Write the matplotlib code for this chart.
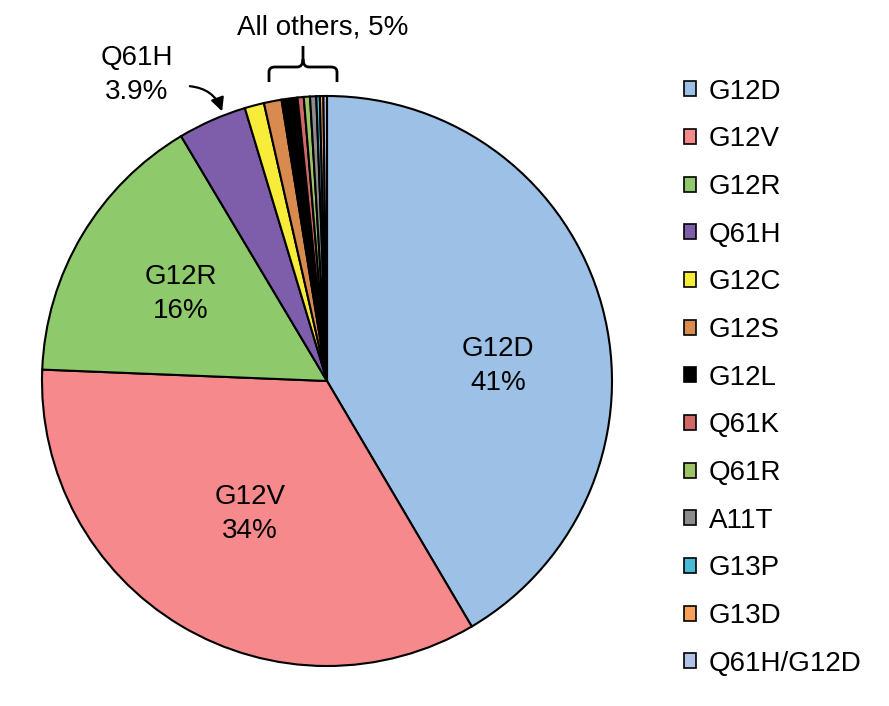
import matplotlib.pyplot as plt
from matplotlib.path import Path
from matplotlib.patches import PathPatch

plt.rcParams['font.family'] = ['Liberation Sans', 'DejaVu Sans']

mutations = ['G12D', 'G12V', 'G12R', 'Q61H', 'G12C', 'G12S', 'G12L',
             'Q61K', 'Q61R', 'A11T', 'G13P', 'G13D', 'Q61H/G12D']
percent = [41.5, 34.1, 15.8, 3.9, 1.1, 1.0, 0.9, 0.35, 0.35, 0.35, 0.2, 0.2, 0.2]
colors = ['#9dc0e6', '#f5898b', '#8ec96b', '#7e5eab', '#f7ec3a', '#d98a4f',
          '#000000', '#d06868', '#9cc467', '#8c8c8c', '#48bcd6', '#f7a059',
          '#b3c3e8']

fig = plt.figure(figsize=(8.89, 7.06), dpi=100)
ax = fig.add_axes([0, 0, 1, 1])

wedges, _ = ax.pie(percent, colors=colors, startangle=90, counterclock=False,
                   center=(327, 325), radius=285, frame=True,
                   wedgeprops=dict(edgecolor='black', linewidth=1.5))
ax.set_xlim(0, 889)
ax.set_ylim(0, 706)
ax.set_aspect('equal')
ax.axis('off')

fs = 20
ls = 1.38
ax.text(498, 340, 'G12D\n41%', ha='center', va='center', fontsize=fs, linespacing=ls)
ax.text(250, 192, 'G12V\n34%', ha='center', va='center', fontsize=fs, linespacing=ls)
ax.text(181, 412, 'G12R\n16%', ha='center', va='center', fontsize=fs, linespacing=ls)

# Q61H callout
ax.text(137, 631, 'Q61H\n3.9%', ha='center', va='center', fontsize=fs, linespacing=ls)
ax.annotate('', xy=(223, 592), xytext=(187, 620),
            arrowprops=dict(arrowstyle='-|>', color='black', lw=1.6,
                            mutation_scale=20,
                            connectionstyle='arc3,rad=-0.35'))

# All others brace
ax.text(323, 679, 'All others, 5%', ha='center', va='center', fontsize=fs)
xl, xr, xm = 269, 337, 303
yb, yt, yp = 624, 639, 660
verts = [(xl, yb), (xl, yt - 5), (xl, yt), (xl + 6, yt),
         (xm - 6, yt), (xm, yt), (xm, yt + 8), (xm, yp),
         (xm, yt + 8), (xm, yt), (xm + 6, yt), (xr - 6, yt),
         (xr, yt), (xr, yt - 5), (xr, yb)]
codes = [Path.MOVETO, Path.LINETO, Path.CURVE3, Path.CURVE3,
         Path.LINETO, Path.CURVE3, Path.CURVE3, Path.LINETO,
         Path.MOVETO, Path.CURVE3, Path.CURVE3, Path.LINETO,
         Path.CURVE3, Path.CURVE3, Path.LINETO]
ax.add_patch(PathPatch(Path(verts, codes), facecolor='none', edgecolor='black', lw=2))

leg = ax.legend(wedges, mutations, loc='upper left', bbox_to_anchor=(0.741, 0.924),
                frameon=False, fontsize=fs, handlelength=0.45, handleheight=0.45,
                handletextpad=0.45, labelspacing=0.78)
for h in leg.legend_handles:
    h.set_linewidth(1.2)

fig.savefig('out.png', dpi=100)
